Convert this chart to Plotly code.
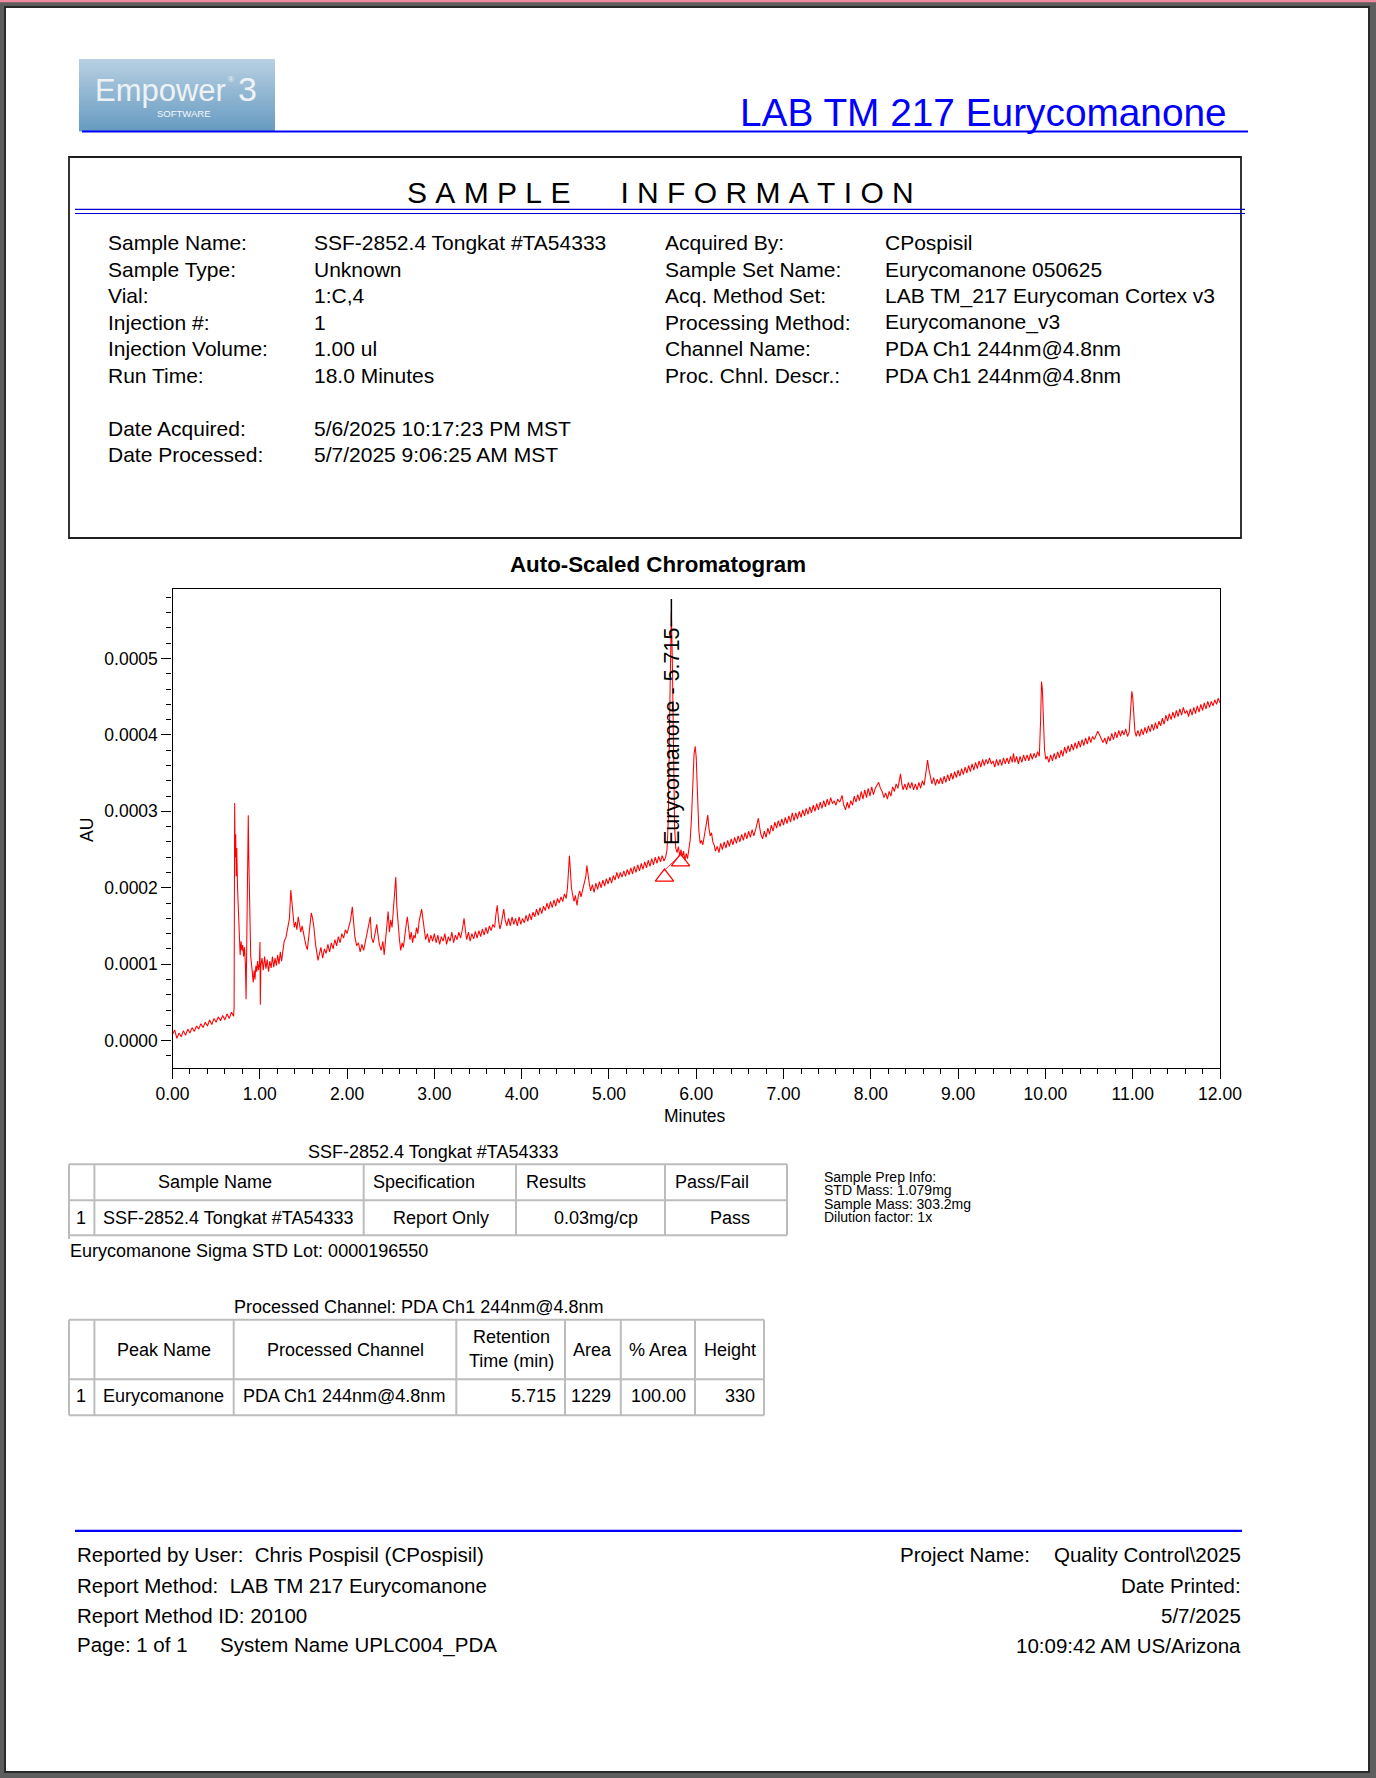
import plotly.graph_objects as go

# ---------------- data ----------------
time_min = [
    0.000, 0.025, 0.050, 0.075, 0.100, 0.125, 0.150, 0.175, 0.200, 0.225, 0.250, 0.275, 0.300, 0.325, 0.350, 0.375,
    0.400, 0.425, 0.450, 0.475, 0.500, 0.525, 0.550, 0.575, 0.600, 0.625, 0.650, 0.675, 0.700,
    0.706, 0.712, 0.718, 0.724, 0.730, 0.736, 0.745, 0.755, 0.765, 0.775, 0.785, 0.795, 0.805, 0.815, 0.825, 0.835,
    0.843, 0.850, 0.860, 0.868, 0.874, 0.880, 0.888, 0.896, 0.905, 0.915, 0.925, 0.935, 0.945, 0.955, 0.965, 0.975,
    0.985, 0.995, 1.002, 1.006, 1.012, 1.025, 1.040, 1.055, 1.070, 1.085, 1.100, 1.115, 1.130, 1.145, 1.160, 1.175,
    1.190, 1.205, 1.220, 1.235, 1.250, 1.265, 1.280, 1.300, 1.320, 1.340, 1.355, 1.365, 1.380, 1.395, 1.410, 1.425,
    1.440, 1.455, 1.470, 1.485, 1.500, 1.515, 1.530, 1.545, 1.560, 1.575, 1.590, 1.605, 1.620, 1.640, 1.655, 1.667,
    1.680, 1.700, 1.720, 1.740, 1.760, 1.780, 1.800, 1.820, 1.840, 1.860, 1.880, 1.900, 1.920, 1.940, 1.960, 1.980,
    2.000, 2.020, 2.040, 2.060, 2.075, 2.090, 2.110, 2.130, 2.150, 2.170, 2.190, 2.210, 2.230, 2.250, 2.266, 2.280,
    2.300, 2.320, 2.340, 2.355, 2.370, 2.390, 2.410, 2.425, 2.440, 2.455, 2.470, 2.485, 2.500, 2.515, 2.530, 2.545,
    2.558, 2.570, 2.585, 2.600, 2.615, 2.630, 2.645, 2.660, 2.675, 2.690, 2.705, 2.720, 2.735, 2.750, 2.765, 2.780,
    2.795, 2.810, 2.825, 2.840, 2.854, 2.870, 2.885, 2.900, 2.920, 2.940, 2.960, 2.980, 3.000, 3.020, 3.040, 3.060,
    3.080, 3.100, 3.120, 3.140, 3.160, 3.180, 3.200, 3.220, 3.240, 3.260, 3.280, 3.300, 3.320, 3.340, 3.355, 3.370,
    3.390, 3.410, 3.430, 3.450, 3.470, 3.490, 3.510, 3.530, 3.550, 3.570, 3.590, 3.610, 3.630, 3.650, 3.670, 3.690,
    3.705, 3.720, 3.735, 3.750, 3.765, 3.780, 3.795, 3.810, 3.830, 3.850, 3.870, 3.890, 3.910, 3.930, 3.950, 3.970,
    3.990, 4.010, 4.030, 4.050, 4.070, 4.090, 4.110, 4.130, 4.150, 4.170, 4.190, 4.210, 4.230, 4.250, 4.270, 4.290,
    4.310, 4.330, 4.350, 4.370, 4.390, 4.410, 4.430, 4.450, 4.470, 4.490, 4.510, 4.525, 4.537, 4.547, 4.557, 4.570,
    4.585, 4.600, 4.615, 4.634, 4.650, 4.665, 4.680, 4.700, 4.720, 4.735, 4.747, 4.760, 4.775, 4.790, 4.810, 4.830,
    4.850, 4.870, 4.890, 4.910, 4.930, 4.950, 4.970, 4.990, 5.010, 5.030, 5.050, 5.070, 5.090, 5.110, 5.130, 5.150,
    5.170, 5.190, 5.210, 5.230, 5.250, 5.270, 5.290, 5.310, 5.330, 5.350, 5.370, 5.390, 5.410, 5.430, 5.450, 5.470,
    5.490, 5.510, 5.530, 5.550, 5.570, 5.590, 5.610, 5.630, 5.650,
    5.665, 5.680, 5.692, 5.703, 5.715, 5.727, 5.740, 5.752, 5.765, 5.780, 5.795, 5.810, 5.825, 5.840, 5.855, 5.870,
    5.885, 5.900, 5.915, 5.930, 5.945, 5.960, 5.975, 5.988, 6.000, 6.015, 6.030, 6.045, 6.060, 6.075, 6.090, 6.105,
    6.120, 6.132, 6.145, 6.160, 6.175, 6.190, 6.205, 6.220, 6.240, 6.260, 6.280, 6.300, 6.320, 6.340, 6.360, 6.380,
    6.400, 6.420, 6.440, 6.460, 6.480, 6.500, 6.520, 6.540, 6.560, 6.580, 6.600, 6.620, 6.640, 6.660, 6.680, 6.700,
    6.712, 6.725, 6.740, 6.760, 6.780, 6.800, 6.820, 6.840, 6.860, 6.880, 6.900, 6.920, 6.940, 6.960, 6.980, 7.000,
    7.020, 7.040, 7.060, 7.080, 7.100, 7.120, 7.140, 7.160, 7.180, 7.200, 7.220, 7.240, 7.260, 7.280, 7.300, 7.320,
    7.340, 7.360, 7.380, 7.400, 7.420, 7.440, 7.460, 7.480, 7.500, 7.520, 7.540, 7.560, 7.580, 7.600, 7.620, 7.645,
    7.670, 7.690, 7.710, 7.730, 7.750, 7.770, 7.790, 7.810, 7.830, 7.850, 7.870, 7.890, 7.910, 7.930, 7.950, 7.970,
    7.990, 8.010, 8.030, 8.050, 8.070, 8.090, 8.110, 8.130, 8.150, 8.170, 8.190, 8.210, 8.230, 8.250, 8.270, 8.290,
    8.310, 8.325, 8.340, 8.355, 8.370, 8.390, 8.410, 8.430, 8.450, 8.470, 8.490, 8.510, 8.530, 8.550, 8.570, 8.590,
    8.610, 8.630, 8.650, 8.665, 8.680, 8.700, 8.720, 8.740, 8.760, 8.780, 8.800, 8.820, 8.840, 8.860, 8.880, 8.900,
    8.920, 8.940, 8.960, 8.980, 9.000, 9.020, 9.040, 9.060, 9.080, 9.100, 9.120, 9.140, 9.160, 9.180, 9.200, 9.220,
    9.240, 9.260, 9.280, 9.300, 9.320, 9.340, 9.360, 9.380, 9.400, 9.420, 9.440, 9.460, 9.480, 9.500, 9.520, 9.540,
    9.560, 9.580, 9.600, 9.620, 9.634, 9.650, 9.670, 9.690, 9.710, 9.730, 9.750, 9.770, 9.790, 9.810, 9.830, 9.850,
    9.870, 9.890, 9.910, 9.930, 9.945, 9.955, 9.965, 9.975, 9.990, 10.005, 10.020, 10.040, 10.060, 10.080, 10.100, 10.120,
    10.140, 10.160, 10.180, 10.200, 10.220, 10.240, 10.260, 10.280, 10.300, 10.320, 10.340, 10.360, 10.380, 10.400, 10.420, 10.440,
    10.460, 10.480, 10.500, 10.520, 10.540, 10.560, 10.580, 10.600, 10.620, 10.640, 10.660, 10.680, 10.700, 10.720, 10.740, 10.760,
    10.780, 10.800, 10.820, 10.840, 10.860, 10.880, 10.900, 10.920, 10.940, 10.960, 10.975, 10.990, 11.000, 11.012, 11.025, 11.040,
    11.060, 11.080, 11.100, 11.120, 11.140, 11.160, 11.180, 11.200, 11.220, 11.240, 11.260, 11.280, 11.300, 11.320, 11.340, 11.360,
    11.380, 11.400, 11.420, 11.440, 11.460, 11.480, 11.500, 11.520, 11.540, 11.560, 11.580, 11.600, 11.620, 11.640, 11.660, 11.680,
    11.700, 11.720, 11.740, 11.760, 11.780, 11.800, 11.820, 11.840, 11.860, 11.880, 11.900, 11.920, 11.940, 11.960, 11.980, 12.000,
]

signal_uau = [
    8, 14, 3, 10, 5, 13, 7, 15, 10, 17, 12, 19, 15, 22, 17, 24,
    19, 27, 21, 29, 24, 31, 26, 33, 27, 35, 29, 37, 32,
    45, 311, 240, 270, 215, 252, 200, 165, 140, 112, 130, 118, 125, 110, 122, 100,
    54, 115, 180, 295, 240, 190, 150, 110, 100, 88, 76, 92, 80, 98, 90, 104,
    92, 100, 129, 47, 98, 108, 92, 110, 94, 106, 90, 104, 95, 110, 96, 108,
    98, 112, 100, 116, 104, 118, 130, 135, 148, 160, 197, 185, 160, 148, 155, 145,
    162, 148, 142, 150, 138, 132, 124, 119, 135, 150, 167, 160, 148, 125, 115, 105,
    112, 122, 108, 120, 114, 126, 116, 128, 120, 132, 124, 136, 128, 140, 134, 145,
    140, 150, 158, 175, 155, 135, 124, 128, 116, 126, 118, 130, 138, 150, 162, 135,
    128, 140, 152, 138, 126, 118, 130, 112, 128, 150, 169, 142, 158, 148, 172, 190,
    214, 175, 150, 132, 118, 128, 122, 140, 150, 162, 145, 132, 142, 128, 138, 134,
    148, 140, 156, 165, 172, 158, 142, 132, 140, 128, 138, 130, 140, 128, 138, 126,
    136, 130, 140, 126, 136, 130, 142, 128, 138, 132, 142, 134, 145, 160, 145, 132,
    142, 130, 140, 133, 143, 134, 144, 136, 146, 138, 148, 140, 150, 144, 152, 148,
    165, 177, 158, 146, 152, 160, 172, 158, 150, 160, 150, 162, 152, 160, 150, 162,
    152, 160, 154, 164, 156, 166, 158, 168, 162, 172, 164, 174, 166, 176, 170, 180,
    172, 182, 174, 184, 176, 186, 180, 188, 182, 192, 186, 200, 225, 242, 225, 200,
    190, 182, 190, 177, 190, 196, 188, 198, 205, 215, 229, 215, 205, 196, 204, 194,
    206, 198, 208, 200, 210, 202, 212, 205, 214, 206, 216, 210, 220, 212, 220, 214,
    222, 215, 224, 217, 226, 218, 228, 220, 230, 222, 232, 224, 234, 226, 236, 228,
    238, 230, 240, 232, 241, 234, 242, 235, 240,
    250, 290, 400, 510, 562, 490, 360, 280, 252, 246, 254, 242, 250, 240, 248, 236,
    245, 238, 250, 262, 290, 335, 375, 385, 370, 320, 275, 258, 262, 256, 268, 280,
    292, 295, 278, 268, 272, 260, 256, 248, 254, 246, 258, 250, 260, 252, 262, 254,
    264, 256, 266, 258, 268, 260, 270, 262, 272, 264, 274, 266, 276, 268, 276, 285,
    291, 280, 270, 264, 274, 266, 278, 270, 282, 274, 286, 278, 288, 280, 290, 282,
    292, 284, 294, 286, 298, 288, 298, 290, 300, 292, 302, 294, 304, 296, 306, 298,
    308, 300, 310, 302, 312, 304, 314, 306, 316, 308, 318, 310, 314, 308, 316, 312,
    321, 308, 302, 312, 304, 314, 308, 320, 312, 322, 314, 326, 316, 328, 318, 330,
    320, 332, 322, 330, 334, 338, 330, 326, 318, 324, 316, 326, 320, 332, 326, 336,
    330, 340, 349, 336, 328, 336, 328, 338, 330, 338, 328, 336, 328, 338, 330, 340,
    334, 350, 367, 355, 345, 336, 344, 334, 342, 336, 344, 336, 346, 338, 348, 340,
    350, 342, 352, 344, 354, 346, 356, 348, 358, 350, 360, 352, 362, 354, 364, 356,
    366, 358, 368, 360, 368, 362, 370, 362, 366, 358, 368, 360, 368, 360, 370, 362,
    370, 362, 372, 364, 376, 364, 372, 362, 372, 364, 374, 366, 374, 366, 376, 368,
    376, 370, 378, 372, 420, 470, 460, 430, 380, 368, 372, 364, 374, 366, 376, 368,
    378, 370, 380, 372, 384, 376, 386, 378, 388, 380, 390, 382, 392, 384, 394, 386,
    396, 388, 398, 390, 398, 394, 400, 405, 400, 394, 390, 396, 388, 398, 392, 402,
    394, 404, 396, 406, 398, 406, 400, 408, 398, 404, 430, 457, 450, 420, 405, 398,
    406, 398, 408, 400, 410, 402, 412, 404, 414, 406, 416, 408, 418, 412, 422, 414,
    426, 418, 428, 420, 430, 422, 432, 424, 434, 426, 436, 428, 432, 424, 434, 426,
    436, 428, 438, 430, 440, 432, 442, 434, 444, 436, 444, 438, 446, 440, 448, 442,
]

peak_name = "Eurycomanone"
peak_rt = 5.715
peak_apex_uau = 562
baseline_start = (5.636, 214)   # integration start marker (min, µAU)
baseline_end = (5.820, 234)     # integration end marker (min, µAU)

x_tick_vals = [0, 1, 2, 3, 4, 5, 6, 7, 8, 9, 10, 11, 12]
y_tick_vals_uau = [0, 100, 200, 300, 400, 500]

info_left = [("Sample Name:", "SSF-2852.4 Tongkat #TA54333"),
             ("Sample Type:", "Unknown"),
             ("Vial:", "1:C,4"),
             ("Injection #:", "1"),
             ("Injection Volume:", "1.00 ul"),
             ("Run Time:", "18.0 Minutes")]
info_dates = [("Date Acquired:", "5/6/2025 10:17:23 PM MST"),
              ("Date Processed:", "5/7/2025 9:06:25 AM MST")]
info_right = [("Acquired By:", "CPospisil"),
              ("Sample Set Name:", "Eurycomanone 050625"),
              ("Acq. Method Set:", "LAB TM_217 Eurycoman Cortex v3"),
              ("Processing Method:", "Eurycomanone_v3"),
              ("Channel Name:", "PDA Ch1 244nm@4.8nm"),
              ("Proc. Chnl. Descr.:", "PDA Ch1 244nm@4.8nm")]

results_header = ["Sample Name", "Specification", "Results", "Pass/Fail"]
results_row = ["1", "SSF-2852.4 Tongkat #TA54333", "Report Only", "0.03mg/cp", "Pass"]
prep_info = ["Sample Prep Info:", "STD Mass: 1.079mg", "Sample Mass: 303.2mg", "Dilution factor: 1x"]

peaks_header = ["Peak Name", "Processed Channel", "Retention", "Time (min)", "Area", "% Area", "Height"]
peaks_row = ["1", "Eurycomanone", "PDA Ch1 244nm@4.8nm", "5.715", "1229", "100.00", "330"]

footer_left = ["Reported by User:  Chris Pospisil (CPospisil)",
               "Report Method:  LAB TM 217 Eurycomanone",
               "Report Method ID: 20100"]
footer_right = ["Date Printed:", "5/7/2025", "10:09:42 AM US/Arizona"]

# ---------------- page geometry helpers ----------------
W, H = 1376, 1778
FONT = "Liberation Sans, Arial, sans-serif"


def px(x):
    return x / W


def py(y):
    return 1 - y / H


shapes = []
annotations = []


def rect(x0, y0, x1, y1, fill=None, line=None, lw=0, layer="below"):
    shapes.append(dict(type="rect", xref="paper", yref="paper",
                       x0=px(x0), x1=px(x1), y0=py(y1), y1=py(y0),
                       fillcolor=fill if fill else "rgba(0,0,0,0)",
                       line=dict(color=line if line else "rgba(0,0,0,0)", width=lw),
                       layer=layer))


def hline(x0, x1, y, color, lw):
    shapes.append(dict(type="line", xref="paper", yref="paper",
                       x0=px(x0), x1=px(x1), y0=py(y), y1=py(y),
                       line=dict(color=color, width=lw), layer="below"))


def vline(x, y0, y1, color, lw):
    shapes.append(dict(type="line", xref="paper", yref="paper",
                       x0=px(x), x1=px(x), y0=py(y0), y1=py(y1),
                       line=dict(color=color, width=lw), layer="below"))


def text(t, x, y, size, anchor="left", color="black", family=FONT, bold=False):
    if bold:
        t = "<b>" + t + "</b>"
    annotations.append(dict(text=t, x=px(x), y=py(y), xref="paper", yref="paper",
                            xanchor=anchor, yanchor="middle", showarrow=False,
                            font=dict(family=family, size=size, color=color),
                            borderpad=0))


# page background + frame
rect(0, 0, W, 2.2, fill="#ef8aa2")
rect(5, 7, 1369, 1772, fill="white", line="#2a2a2a", lw=2)

# logo (gradient stripes)
top_c = (184, 208, 226)
bot_c = (104, 156, 194)
n = 36
lx0, lx1, ly0, ly1 = 79, 275, 59, 131
for i in range(n):
    f = i / (n - 1)
    c = tuple(int(top_c[k] + (bot_c[k] - top_c[k]) * f) for k in range(3))
    rect(lx0, ly0 + (ly1 - ly0) * i / n, lx1, ly0 + (ly1 - ly0) * (i + 1) / n + 0.6,
         fill="rgb(%d,%d,%d)" % c)
text("Empower", 94, 90, 31, color="#eef2f5")
text("®", 227, 80, 8, color="#eef2f5")
text("3", 237, 89, 34, color="#eef2f5")
text("SOFTWARE", 184, 114, 9.5, anchor="center", color="#f4f7fa")

# report title
text("LAB TM 217 Eurycomanone", 1228, 113, 38.8, anchor="right", color="#0000ff")
hline(82, 1248, 131.5, "#0000ff", 2.2)

# sample information box
rect(69, 157, 1241, 538, line="#1e1e1e", lw=1.8)
nb = "\u00a0"
title_txt = nb.join("SAMPLE") + nb * 6 + nb.join("INFORMATION")
text(title_txt, 660, 193, 30, anchor="center")
hline(75, 1245, 209.3, "#0000cc", 1.2)
hline(75, 1245, 213.5, "#0000cc", 1.2)

INFO_FS = 21
row_y = [242.7, 269.2, 295.7, 322.2, 348.7, 375.2]
for (lab, val), yy in zip(info_left, row_y):
    text(lab, 107, yy, INFO_FS)
    text(val, 313, yy, INFO_FS)
for (lab, val), yy in zip(info_right, row_y):
    text(lab, 664, yy, INFO_FS)
    text(val, 884, yy, INFO_FS)
for (lab, val), yy in zip(info_dates, [428.3, 454.5]):
    text(lab, 107, yy, INFO_FS)
    text(val, 313, yy, INFO_FS)

# chromatogram title and axis titles
text("Auto-Scaled Chromatogram", 658, 564, 22.3, anchor="center", bold=True)
text("Minutes", 695, 1116, 17.5, anchor="center")
annotations.append(dict(text="AU", x=px(87), y=py(830), xref="paper", yref="paper",
                        xanchor="center", yanchor="middle", showarrow=False, textangle=-90,
                        font=dict(family=FONT, size=17.5, color="black")))

# results table
TL = "#bdbdbd"
text("SSF-2852.4 Tongkat #TA54333", 433, 1151.5, 18, anchor="center")
for yy in [1164.3, 1200.3, 1235.3]:
    hline(69, 787, yy, TL, 2)
for xx in [69, 94.4, 363.7, 516, 665, 787]:
    vline(xx, 1164.3, 1235.3, TL, 2)
vline(69, 1235, 1239, TL, 2)
text(results_header[0], 215, 1181.5, 18, anchor="center")
text(results_header[1], 372, 1181.5, 18)
text(results_header[2], 525, 1181.5, 18)
text(results_header[3], 674, 1181.5, 18)
text(results_row[0], 81, 1217.5, 18, anchor="center")
text(results_row[1], 102, 1217.5, 18)
text(results_row[2], 441, 1217.5, 18, anchor="center")
text(results_row[3], 596, 1217.5, 18, anchor="center")
text(results_row[4], 730, 1217.5, 18, anchor="center")
text("Eurycomanone Sigma STD Lot: 0000196550", 69, 1251, 18)

for t_, yy in zip(prep_info, [1176.5, 1190, 1203.5, 1217]):
    text(t_, 823, yy, 14)

# peak table
text("Processed Channel: PDA Ch1 244nm@4.8nm", 418, 1307, 18, anchor="center")
for yy in [1319.7, 1379.3, 1415.3]:
    hline(69, 764, yy, TL, 2)
for xx in [69, 94.4, 233.7, 456.3, 565, 620.8, 695, 764]:
    vline(xx, 1319.7, 1415.3, TL, 2)
text(peaks_header[0], 164, 1349.5, 18, anchor="center")
text(peaks_header[1], 345, 1349.5, 18, anchor="center")
text(peaks_header[2], 511, 1337, 18, anchor="center")
text(peaks_header[3], 511, 1360.5, 18, anchor="center")
text(peaks_header[4], 592.5, 1349.5, 18, anchor="center")
text(peaks_header[5], 658, 1349.5, 18, anchor="center")
text(peaks_header[6], 730, 1349.5, 18, anchor="center")
text(peaks_row[0], 81, 1396, 18, anchor="center")
text(peaks_row[1], 102, 1396, 18)
text(peaks_row[2], 242, 1396, 18)
text(peaks_row[3], 557, 1396, 18, anchor="right")
text(peaks_row[4], 612, 1396, 18, anchor="right")
text(peaks_row[5], 687, 1396, 18, anchor="right")
text(peaks_row[6], 756, 1396, 18, anchor="right")

# footer
hline(75, 1242, 1530.8, "#0000ff", 2.2)
for t_, yy in zip(footer_left, [1554, 1585, 1615.5]):
    text(t_, 76, yy, 20.5)
text("Page: 1 of 1", 76, 1644, 20.5)
text("System Name UPLC004_PDA", 219, 1645, 20.5)
text("Project Name:", 899, 1554, 20.5)
text("Quality Control\\2025", 1242, 1554, 20.5, anchor="right")
for t_, yy in zip(footer_right, [1585, 1615.5, 1645]):
    text(t_, 1242, yy, 20.5, anchor="right")

# ---------------- chromatogram traces ----------------
signal_au = [v * 1e-6 for v in signal_uau]

fig = go.Figure()
fig.add_trace(go.Scatter(x=time_min, y=signal_au, mode="lines",
                         line=dict(color="#ff0000", width=1.05), hoverinfo="skip"))
# integration baseline
fig.add_trace(go.Scatter(x=[baseline_start[0], baseline_end[0]],
                         y=[(baseline_start[1] + 9) * 1e-6, (baseline_end[1] + 9) * 1e-6],
                         mode="lines", line=dict(color="#ff0000", width=0.8), hoverinfo="skip"))
fig.add_trace(go.Scatter(x=[baseline_start[0], baseline_end[0]],
                         y=[baseline_start[1] * 1e-6, baseline_end[1] * 1e-6],
                         mode="markers",
                         marker=dict(symbol="triangle-up-open", size=16, color="#ff0000",
                                     line=dict(width=1.2, color="#ff0000")),
                         hoverinfo="skip"))
# peak label line
fig.add_trace(go.Scatter(x=[peak_rt, peak_rt], y=[(peak_apex_uau + 16) * 1e-6, (peak_apex_uau - 20) * 1e-6],
                         mode="lines", line=dict(color="black", width=1.5), hoverinfo="skip"))
annotations.append(dict(text=f"{peak_name} - {peak_rt:.3f}", x=peak_rt, y=399e-6,
                        xref="x", yref="y", xanchor="center", yanchor="middle",
                        showarrow=False, textangle=-90,
                        font=dict(family=FONT, size=21.5, color="black")))

y_range = [-35.9e-6, 591e-6]

fig.update_layout(
    width=W, height=H, autosize=False,
    margin=dict(l=0, r=0, t=0, b=0, pad=0, autoexpand=False),
    paper_bgcolor="#5e5e5e",
    plot_bgcolor="rgba(0,0,0,0)",
    showlegend=False,
    shapes=shapes,
    annotations=annotations,
    xaxis=dict(domain=[px(172.5), px(1220)], range=[0, 12], automargin=False,
               tickvals=x_tick_vals, ticktext=[f"{v:.2f}" for v in x_tick_vals],
               showline=True, mirror=True, linecolor="black", linewidth=1.3,
               ticks="outside", ticklen=10, tickwidth=1, tickcolor="black",
               minor=dict(dtick=0.2, tick0=0, ticks="outside", ticklen=5, tickwidth=1,
                          tickcolor="black", showgrid=False),
               tickfont=dict(family=FONT, size=17.5, color="black"),
               showgrid=False, zeroline=False, fixedrange=True),
    yaxis=dict(domain=[py(1068), py(589)], range=y_range, automargin=False,
               tickvals=[v * 1e-6 for v in y_tick_vals_uau],
               ticktext=[f"{v * 1e-6:.4f}" for v in y_tick_vals_uau],
               showline=True, mirror=True, linecolor="black", linewidth=1.3,
               ticks="outside", ticklen=10, tickwidth=1, tickcolor="black",
               minor=dict(dtick=20e-6, tick0=0, ticks="outside", ticklen=5, tickwidth=1,
                          tickcolor="black", showgrid=False),
               tickfont=dict(family=FONT, size=17.5, color="black"),
               showgrid=False, zeroline=False, fixedrange=True),
)

fig.write_html("out.html", config={"displayModeBar": False},
               post_script="document.body.style.margin='0';document.body.style.overflow='hidden';")
